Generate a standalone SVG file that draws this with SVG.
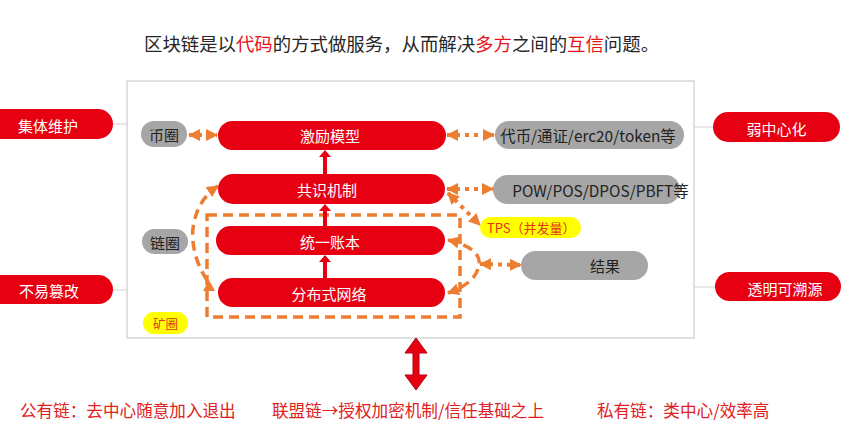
<svg xmlns="http://www.w3.org/2000/svg" width="850" height="430" viewBox="0 0 850 430">
<style>
text{font-family:"Noto Sans CJK SC","Noto Sans",sans-serif;dominant-baseline:central}
.red{fill:#E60012}
.gray{fill:#A6A6A6}
.yel{fill:#FFFF00}
.wt{fill:#FFFFFF;font-size:15px;text-anchor:middle}
.dk{fill:#222222;font-size:15px;text-anchor:middle}
.ot{fill:#E2341D;font-size:13px}
.link{stroke:#D9D9D9;stroke-width:1.2;fill:none}
.dot{stroke:#ED7D31;stroke-width:4;stroke-dasharray:4 5;fill:none}
.dash{stroke:#ED7D31;stroke-width:3.5;stroke-dasharray:10 6;fill:none}
.bt{fill:#E02020;font-size:16.6px}
</style>
<defs>
<marker id="ah" markerUnits="userSpaceOnUse" markerWidth="12" markerHeight="12" viewBox="0 0 12 12" refX="11" refY="6" orient="auto-start-reverse">
<path d="M0,0 L12,6 L0,12 z" fill="#ED7D31"/>
</marker>
<marker id="ra" markerUnits="userSpaceOnUse" markerWidth="12" markerHeight="8" viewBox="0 0 12 8" refX="6" refY="0" orient="0">
<path d="M0,7 L6,0 L12,7 z" fill="#E60012"/>
</marker>
</defs>
<rect x="0" y="0" width="850" height="430" fill="#FFFFFF"/>

<g id="title">
<text x="144" y="43" style="font-size:18.4px" fill="#262626">区块链是以<tspan fill="#E8141C">代码</tspan>的方式做服务，从而解决<tspan fill="#E8141C">多方</tspan>之间的<tspan fill="#E8141C">互信</tspan>问题。</text>
</g>

<g id="frame">
<rect x="127" y="81" width="567" height="257" fill="#FFFFFF" stroke="#D6D6D6" stroke-width="1.5"/>
</g>

<g id="connectors">
<line class="link" x1="113" y1="124" x2="127" y2="124"/>
<line class="link" x1="113" y1="290" x2="127" y2="290"/>
<line class="link" x1="694" y1="127" x2="713" y2="127"/>
<line class="link" x1="694" y1="287" x2="715" y2="287"/>
<rect x="207" y="215" width="253" height="102" class="dash" stroke-width="3"/>
<!-- red vertical arrows -->
<g fill="#E60012">
<polygon points="325,150 331,157 327,157 327,174 323,174 323,157 319,157"/>
<polygon points="325,204 331,211 327,211 327,226 323,226 323,211 319,211"/>
<polygon points="325,255 331,262 327,262 327,278 323,278 323,262 319,262"/>
</g>
<!-- dotted orange -->
<line class="dot" x1="189" y1="135" x2="217" y2="135" marker-start="url(#ah)" marker-end="url(#ah)"/>
<line class="dot" x1="447" y1="135" x2="494" y2="135" marker-start="url(#ah)" marker-end="url(#ah)"/>
<line class="dot" x1="447" y1="189" x2="493" y2="189" marker-start="url(#ah)" marker-end="url(#ah)"/>
<line class="dot" x1="448" y1="193" x2="480" y2="225" marker-start="url(#ah)" marker-end="url(#ah)"/>
<line class="dot" x1="480" y1="264" x2="521" y2="265" marker-start="url(#ah)" marker-end="url(#ah)"/>
<!-- dashed curves -->
<path class="dash" stroke-width="4" d="M448,240 C470,245 481,254 479,265 C477,278 465,287 448,293" marker-start="url(#ah)" marker-end="url(#ah)"/>
<path class="dash" stroke-width="4" d="M207,280 C195,262 190,240 194,222 C198,205 206,194 218,186" marker-end="url(#ah)"/>
<polygon points="209,280 215,291 203,291" fill="#ED7D31"/>
<!-- big double arrow -->
<polygon points="416,338 427,353 419,353 419,375 427,375 416,390 405,375 413,375 413,353 405,353" fill="#E60012" stroke="#B00010" stroke-width="1"/>
</g>

<g id="n-jitiweihu"><rect x="-30" y="109" width="143" height="30" rx="15" class="red"/><text x="48" y="125" class="wt">集体维护</text></g>
<g id="n-buyicuangai"><rect x="-30" y="275" width="143" height="29" rx="14.5" class="red"/><text x="49" y="290" class="wt">不易篡改</text></g>
<g id="n-ruozhongxin"><rect x="713" y="112" width="127" height="30" rx="15" class="red"/><text x="776.5" y="128" class="wt">弱中心化</text></g>
<g id="n-touming"><rect x="715" y="272" width="126" height="29" rx="14.5" class="red"/><text x="785" y="288" class="wt">透明可溯源</text></g>

<g id="n-jili"><rect x="218" y="121" width="228" height="29" rx="14.5" class="red"/><text x="330" y="135" class="wt">激励模型</text></g>
<g id="n-gongshi"><rect x="218" y="174" width="227" height="30" rx="15" class="red"/><text x="327" y="189" class="wt">共识机制</text></g>
<g id="n-tongyi"><rect x="216" y="226" width="229" height="29" rx="14.5" class="red"/><text x="330" y="241" class="wt">统一账本</text></g>
<g id="n-fenbushi"><rect x="218" y="278" width="227" height="29" rx="14.5" class="red"/><text x="329" y="293" class="wt">分布式网络</text></g>

<g id="n-biquan"><rect x="141" y="121" width="46" height="26" rx="13" class="gray"/><text x="164" y="134" class="dk">币圈</text></g>
<g id="n-lianquan"><rect x="142" y="229" width="46" height="25" rx="12.5" class="gray"/><text x="165" y="242" class="dk">链圈</text></g>
<g id="n-kuangquan"><rect x="143" y="312" width="45" height="22" rx="11" class="yel"/><text x="165.5" y="323" class="ot" style="font-size:12.5px;text-anchor:middle">矿圈</text></g>
<g id="n-daibi"><rect x="495" y="121" width="189" height="28" rx="14" class="gray"/><text x="588" y="135" class="dk" style="font-size:15.4px">代币/通证/erc20/token等</text></g>
<g id="n-pow"><rect x="493" y="175" width="187" height="29" rx="14.5" class="gray"/><text x="600.5" y="190" class="dk" style="font-size:15.4px">POW/POS/DPOS/PBFT等</text></g>
<g id="n-tps"><rect x="480" y="217" width="101" height="21" rx="10.5" class="yel"/><text x="487" y="227.5" class="ot">TPS（并发量）</text></g>
<g id="n-jieguo"><rect x="521" y="251" width="127" height="29" rx="14.5" class="gray"/><text x="605" y="265" class="dk">结果</text></g>

<g id="bottom">
<text x="20" y="410" class="bt">公有链：去中心随意加入退出</text>
<text x="272" y="410" class="bt">联盟链→授权加密机制/信任基础之上</text>
<text x="597" y="410" class="bt">私有链：类中心/效率高</text>
</g>
</svg>
